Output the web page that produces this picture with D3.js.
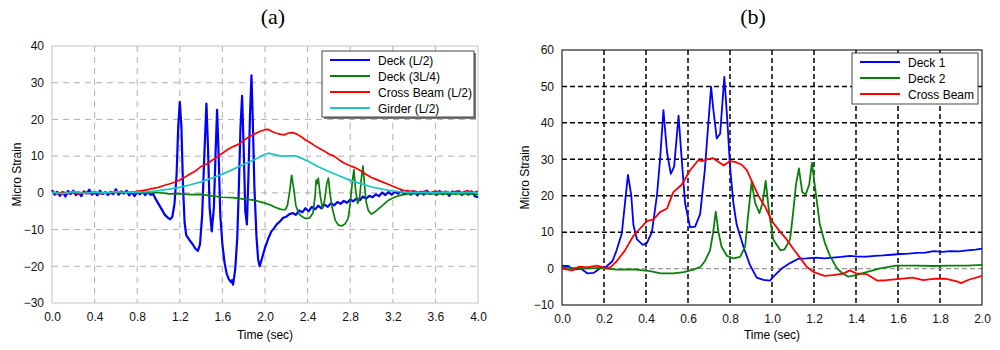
<!DOCTYPE html>
<html>
<head>
<meta charset="utf-8">
<script src="https://cdn.jsdelivr.net/npm/d3@7"></script>
<style>
  body { margin: 0; background: #fff; }
  text { font-family: Arial, "Liberation Sans", sans-serif; }
  .title { font-family: "Times New Roman", "Liberation Serif", serif; }
</style>
</head>
<body>
<svg id="chart" width="1000" height="350"></svg>
<script>
// ---- panel (a) data: [time (sec), micro strain]
var deckHalf = [[0,0.8],[0.025,-0.5],[0.05,0.3],[0.075,-0.8],[0.1,0.2],[0.125,-1.0],[0.15,0.5],[0.175,-0.3],[0.2,0.6],[0.225,-0.6],
  [0.25,0.1],[0.275,-0.9],[0.3,0.4],[0.325,-0.2],[0.35,0.9],[0.375,-0.5],[0.4,0.2],[0.425,-0.7],[0.45,0.6],[0.475,-0.3],
  [0.5,0.1],[0.525,-0.6],[0.55,0.3],[0.575,-0.4],[0.6,1.0],[0.625,-0.5],[0.65,0.4],[0.675,-0.2],[0.7,0.6],[0.725,-0.7],
  [0.75,0.2],[0.775,-0.9],[0.8,0.3],[0.825,-0.4],[0.85,0.5],[0.875,-0.6],[0.9,0.2],[0.925,-0.5],[0.95,-0.3],[0.97,-1.5],
  [1.0,-3.0],[1.03,-4.5],[1.06,-6.0],[1.09,-6.8],[1.11,-7.2],[1.13,-6.5],[1.15,-3],[1.17,5],[1.185,18],[1.2,24.8],
  [1.215,18],[1.23,2],[1.245,-8],[1.26,-11.5],[1.29,-12.8],[1.32,-14.0],[1.35,-15.3],[1.37,-15.8],[1.39,-14],[1.41,-6],
  [1.43,10],[1.45,24.3],[1.465,12],[1.48,-4],[1.5,-10.5],[1.52,-4],[1.535,10],[1.55,22.6],[1.565,10],[1.58,-6],
  [1.6,-14],[1.62,-19],[1.64,-22],[1.66,-23.5],[1.68,-24.3],[1.69,-23.8],[1.7,-25],[1.72,-21],[1.74,-12],[1.755,2],
  [1.77,18],[1.785,26.4],[1.8,12],[1.815,-5],[1.83,-8.6],[1.845,5],[1.86,22],[1.873,32],[1.885,20],[1.9,2],
  [1.92,-12],[1.935,-18],[1.95,-20],[1.97,-18],[2.0,-15],[2.03,-12.5],[2.06,-10.5],[2.08,-9.8],[2.11,-8.6],[2.14,-7.8],
  [2.17,-6.8],[2.2,-6.5],[2.23,-5.8],[2.26,-5.5],[2.29,-6.0],[2.32,-4.8],[2.35,-5.3],[2.38,-4.2],[2.41,-5.0],[2.44,-3.8],
  [2.47,-4.5],[2.5,-3.5],[2.53,-4.2],[2.56,-3.2],[2.59,-3.8],[2.62,-2.8],[2.65,-3.4],[2.68,-2.5],[2.71,-3.0],[2.74,-2.2],
  [2.77,-2.7],[2.8,-1.8],[2.83,-2.3],[2.86,-1.5],[2.89,-2.0],[2.92,-1.0],[2.95,-1.6],[2.98,-0.8],[3.01,-1.2],[3.04,-0.4],
  [3.07,-0.9],[3.1,0.1],[3.13,-0.6],[3.16,0.2],[3.19,-0.5],[3.22,0.3],[3.25,-0.2],[3.28,0.5],[3.31,-0.4],[3.34,0.6],
  [3.37,-0.5],[3.4,0.4],[3.43,-0.7],[3.46,0.3],[3.49,-0.5],[3.52,0.6],[3.55,-0.3],[3.58,0.2],[3.61,-0.6],[3.64,0.5],
  [3.67,-0.4],[3.7,0.3],[3.73,-0.8],[3.76,0.4],[3.79,-0.3],[3.82,0.5],[3.85,-0.6],[3.88,0.2],[3.91,-0.5],[3.94,0.4],
  [3.97,-0.9],[4.0,-1.2]];

var deck3q = [[0,0.2],[0.1,-0.1],[0.2,0.2],[0.3,0],[0.4,0.1],[0.5,-0.1],[0.6,0.2],[0.7,0.1],[0.8,0],[0.9,-0.1],
  [1.0,0.1],[1.1,-0.3],[1.2,-0.2],[1.3,-0.5],[1.4,-0.4],[1.5,-0.8],[1.6,-1.2],[1.7,-1.3],[1.8,-1.7],[1.9,-2.0],
  [2.0,-2.8],[2.05,-3.3],[2.1,-4.0],[2.15,-4.5],[2.19,-4.6],[2.21,-3.5],[2.23,0],[2.25,4.8],[2.27,1],[2.29,-3.5],
  [2.32,-5.8],[2.35,-6.5],[2.38,-7.0],[2.42,-6.8],[2.45,-5.5],[2.47,-1],[2.48,3.5],[2.49,2.5],[2.5,4.0],[2.52,-1],
  [2.54,-4.2],[2.56,-2],[2.58,2.5],[2.595,4],[2.61,0],[2.63,-4],[2.66,-7.5],[2.69,-8.8],[2.72,-9.0],[2.75,-8.5],
  [2.78,-7],[2.8,-3],[2.82,3],[2.835,6.3],[2.85,1],[2.87,-2.9],[2.89,-1],[2.905,4],[2.92,7.3],[2.935,2],
  [2.95,-2.5],[2.97,-4.8],[3.0,-5.8],[3.04,-5.0],[3.08,-4.0],[3.12,-3.0],[3.16,-2.0],[3.2,-1.4],[3.25,-0.8],[3.3,-0.5],
  [3.35,-0.3],[3.4,-0.2],[3.5,-0.2],[3.6,-0.3],[3.7,-0.2],[3.8,-0.3],[3.9,-0.2],[4.0,-0.4]];

var crossHalf = [[0,0.2],[0.05,-0.3],[0.1,0.3],[0.15,-0.2],[0.2,0.1],[0.25,-0.4],[0.3,0.2],[0.35,-0.2],[0.4,0.3],[0.45,-0.3],
  [0.5,0.2],[0.55,-0.2],[0.6,0.4],[0.65,-0.1],[0.7,0.2],[0.75,0.1],[0.8,0.4],[0.85,0.6],[0.9,0.9],[0.95,1.2],
  [1.0,1.5],[1.05,2.0],[1.1,2.4],[1.15,2.9],[1.2,3.5],[1.25,4.3],[1.3,5.2],[1.35,6.0],[1.4,7.2],[1.45,7.8],
  [1.5,8.8],[1.55,9.8],[1.6,10.8],[1.65,11.8],[1.7,12.6],[1.75,13.2],[1.8,14.3],[1.85,15.3],[1.9,16.0],[1.95,16.7],
  [2.0,17.2],[2.03,17.3],[2.06,16.8],[2.1,16.3],[2.14,16.0],[2.18,15.8],[2.22,16.3],[2.26,16.4],[2.3,16.0],[2.34,15.3],
  [2.38,14.4],[2.42,13.8],[2.46,13.0],[2.5,12.3],[2.55,11.5],[2.6,10.6],[2.65,10.0],[2.7,8.9],[2.75,8.0],[2.8,7.4],
  [2.85,6.8],[2.9,6.0],[2.95,5.0],[3.0,4.2],[3.05,3.6],[3.1,3.0],[3.15,2.4],[3.2,1.8],[3.25,1.2],[3.3,0.7],
  [3.35,0.4],[3.4,0.5],[3.45,0.1],[3.5,0.5],[3.55,0.0],[3.6,0.5],[3.65,0.1],[3.7,0.4],[3.75,-0.1],[3.8,0.5],
  [3.85,0.1],[3.9,0.6],[3.95,0.0],[4.0,0.5]];

var girderHalf = [[0,0.1],[0.1,-0.2],[0.2,0.3],[0.3,-0.1],[0.4,0.2],[0.5,0],[0.6,0.3],[0.7,0.1],[0.8,0.2],[0.9,0.3],
  [1.0,0.6],[1.1,1.0],[1.2,1.5],[1.3,2.2],[1.4,3.0],[1.5,4.0],[1.6,5.1],[1.7,6.4],[1.8,7.7],[1.9,9.0],
  [1.95,9.8],[2.0,10.5],[2.03,10.8],[2.08,10.5],[2.15,10.0],[2.2,10.1],[2.28,10.1],[2.33,9.6],[2.4,8.7],[2.45,7.9],
  [2.5,7.1],[2.6,5.8],[2.7,4.6],[2.8,3.4],[2.9,2.5],[3.0,1.6],[3.1,1.0],[3.2,0.5],[3.3,0.2],[3.4,0.1],
  [3.5,0.1],[3.6,0],[3.7,0.2],[3.8,0],[3.9,0.1],[4.0,0.1]];

// ---- panel (b) data
var deck1 = [[0,0.7],[0.03,0.7],[0.055,-0.3],[0.09,0],[0.12,-1.3],[0.15,-1.2],[0.18,0],[0.21,0.5],[0.24,2],[0.26,5],
  [0.285,9.7],[0.3,18],[0.314,25.7],[0.33,20],[0.34,12],[0.357,8],[0.385,6.5],[0.404,7],[0.428,10],[0.452,20],
  [0.467,30],[0.483,43.5],[0.5,32],[0.518,26],[0.534,28],[0.555,42],[0.57,30],[0.586,18],[0.61,11.3],[0.634,11.5],
  [0.658,15],[0.68,27],[0.697,40],[0.71,49.9],[0.72,44],[0.737,35.7],[0.753,37],[0.773,52.6],[0.788,40],[0.8,28],
  [0.816,18],[0.832,12],[0.864,6],[0.895,1],[0.927,-2.5],[0.959,-3.1],[0.99,-3.3],[1.01,-2],[1.046,0],[1.086,1.5],
  [1.125,2.7],[1.165,2.8],[1.21,3],[1.25,2.8],[1.29,3],[1.33,3.2],[1.37,3.5],[1.41,3.3],[1.45,3.3],[1.49,3.5],
  [1.53,3.6],[1.57,3.8],[1.61,4.0],[1.65,4.1],[1.69,4.3],[1.73,4.4],[1.77,4.8],[1.81,4.6],[1.85,4.8],[1.89,4.7],
  [1.93,5.0],[1.97,5.2],[2.0,5.5]];

var deck2 = [[0,0.3],[0.1,0],[0.18,0.2],[0.26,-0.3],[0.34,-0.2],[0.42,-0.7],[0.47,-1.3],[0.53,-1.3],[0.58,-1.0],[0.626,-0.3],
  [0.66,0.5],[0.68,2],[0.705,5],[0.72,10],[0.732,15.6],[0.745,10],[0.76,6],[0.785,3.5],[0.816,2.8],[0.848,3.2],
  [0.872,6],[0.887,15],[0.903,23.8],[0.92,18],[0.94,15.2],[0.955,18],[0.97,24.1],[0.987,15],[1.006,8],[1.04,5],
  [1.06,5.3],[1.086,8],[1.1,15],[1.114,23],[1.128,27.5],[1.144,21],[1.16,20.3],[1.177,23],[1.19,29],[1.21,20],
  [1.228,12],[1.252,7],[1.276,3.5],[1.31,0],[1.34,-1.5],[1.363,-2.2],[1.4,-1.8],[1.45,-1.0],[1.51,0],[1.59,0.8],
  [1.69,0.8],[1.77,0.7],[1.85,0.8],[1.93,0.8],[2.0,1.0]];

var crossBeam = [[0,0],[0.048,-0.5],[0.08,0.5],[0.12,0.3],[0.166,0.8],[0.206,0.2],[0.23,0.3],[0.26,2],[0.3,5],[0.34,9],
  [0.372,11],[0.404,13],[0.436,13.5],[0.467,15.5],[0.5,16.5],[0.53,21],[0.57,23],[0.61,27],[0.65,29.8],[0.666,29.5],
  [0.69,30],[0.72,30.3],[0.753,29],[0.77,28.3],[0.8,29.5],[0.824,29.3],[0.856,28.5],[0.88,27],[0.9,24.5],[0.935,20],
  [0.967,17],[1.0,13],[1.04,10],[1.07,8],[1.1,5.5],[1.133,3],[1.165,0.5],[1.2,-1],[1.25,-2],[1.29,-1.8],
  [1.34,-1.4],[1.37,-0.5],[1.4,-1.3],[1.45,-1.5],[1.5,-3.3],[1.545,-3.2],[1.61,-2.8],[1.67,-2.5],[1.72,-3.2],[1.77,-2.8],
  [1.83,-2.8],[1.88,-3.5],[1.9,-4.0],[1.94,-3.0],[2.0,-2.0]];

var xTicksA = [0, 0.4, 0.8, 1.2, 1.6, 2.0, 2.4, 2.8, 3.2, 3.6, 4.0];
var yTicksA = [-30, -20, -10, 0, 10, 20, 30, 40];
var xTicksB = [0, 0.2, 0.4, 0.6, 0.8, 1.0, 1.2, 1.4, 1.6, 1.8, 2.0];
var yTicksB = [-10, 0, 10, 20, 30, 40, 50, 60];

var namesA = ["Deck (L/2)", "Deck (3L/4)", "Cross Beam (L/2)", "Girder (L/2)"];
var colorsA = ["#0000ff", "#0a800a", "#ff0000", "#1cc4c4"];
var namesB = ["Deck 1", "Deck 2", "Cross Beam"];
var colorsB = ["#0000ff", "#0a800a", "#ff0000"];

var svg = d3.select("#chart");

function drawPanel(p) {
    var x = d3.scaleLinear().domain(p.xDomain).range([p.left, p.right]);
    var y = d3.scaleLinear().domain(p.yDomain).range([p.bottom, p.top]);
    var g = svg.append("g");

    // grid
    g.selectAll(".vg").data(p.xTicks.slice(1, -1)).enter().append("line")
        .attr("x1", d => x(d)).attr("x2", d => x(d))
        .attr("y1", p.top).attr("y2", p.bottom)
        .attr("stroke", p.gridColor).attr("stroke-width", p.gridWidth)
        .attr("stroke-dasharray", p.dash);
    g.selectAll(".hg").data(p.yTicks.slice(1, -1)).enter().append("line")
        .attr("x1", p.left).attr("x2", p.right)
        .attr("y1", d => y(d)).attr("y2", d => y(d))
        .attr("stroke", d => (d === 0 && p.zeroGray) ? "#999" : p.gridColor)
        .attr("stroke-width", d => (d === 0 && p.zeroGray) ? 1.2 : p.gridWidth)
        .attr("stroke-dasharray", p.dash);

    // axes
    var xAxis = d3.axisBottom(x).tickValues(p.xTicks).tickFormat(d3.format(".1f")).tickSize(0).tickPadding(9);
    var yAxis = d3.axisLeft(y).tickValues(p.yTicks).tickFormat(d3.format("d")).tickSize(0).tickPadding(8);
    g.append("g").attr("transform", "translate(0," + p.bottom + ")").call(xAxis)
        .call(a => a.select(".domain").remove())
        .selectAll("text").attr("font-size", 12).attr("fill", "#111");
    g.append("g").attr("transform", "translate(" + p.left + ",0)").call(yAxis)
        .call(a => a.select(".domain").remove())
        .selectAll("text").attr("font-size", 12).attr("fill", "#111");

    // frame
    g.append("rect").attr("x", p.left).attr("y", p.top)
        .attr("width", p.right - p.left).attr("height", p.bottom - p.top)
        .attr("fill", "none").attr("stroke", p.frameColor).attr("stroke-width", p.frameWidth);

    // series
    var line = d3.line().x(d => x(d[0])).y(d => y(d[1]));
    p.series.forEach(function(s, i) {
        g.append("path").datum(s).attr("d", line)
            .attr("fill", "none").attr("stroke", p.colors[i])
            .attr("stroke-width", p.widths[i]).attr("stroke-linejoin", "round");
    });

    // labels
    g.append("text").attr("class", "title").attr("x", (p.left + p.right) / 2 + p.titleDx).attr("y", 24)
        .attr("text-anchor", "middle").attr("font-size", 22).text(p.title);
    g.append("text").attr("x", (p.left + p.right) / 2).attr("y", 339)
        .attr("text-anchor", "middle").attr("font-size", 12).text("Time (sec)");
    g.append("text").attr("transform", "translate(" + p.yLabelX + "," + ((p.top + p.bottom) / 2) + ") rotate(-90)")
        .attr("text-anchor", "middle").attr("font-size", 12).text("Micro Strain");

    // legend
    var L = p.legend;
    if (L.shadow) {
        g.append("rect").attr("x", L.x + 2).attr("y", L.y + 2).attr("width", L.w).attr("height", L.h)
            .attr("fill", "#777");
    }
    g.append("rect").attr("x", L.x).attr("y", L.y).attr("width", L.w).attr("height", L.h)
        .attr("fill", "#fff").attr("stroke", "#444").attr("stroke-width", 1);
    p.names.forEach(function(n, i) {
        var yy = L.y + L.first + i * L.step;
        g.append("line").attr("x1", L.x + 8).attr("x2", L.x + 48).attr("y1", yy).attr("y2", yy)
            .attr("stroke", p.colors[i]).attr("stroke-width", 2);
        g.append("text").attr("x", L.x + 56).attr("y", yy + 4.5).attr("font-size", 12).text(n);
    });
}

drawPanel({
    left: 52, right: 478, top: 46, bottom: 303,
    xDomain: [0, 4], yDomain: [-30, 40], xTicks: xTicksA, yTicks: yTicksA,
    gridColor: "#b0b0b0", gridWidth: 1, dash: "6,5", zeroGray: false,
    frameColor: "#c4c4c4", frameWidth: 1,
    series: [deckHalf, deck3q, crossHalf, girderHalf], colors: colorsA, widths: [2.2, 1.7, 1.7, 1.7],
    names: namesA, title: "(a)", titleDx: 8, yLabelX: 21,
    legend: { x: 322, y: 51, w: 152, h: 66, first: 9, step: 16, shadow: true }
});

drawPanel({
    left: 562, right: 982, top: 50, bottom: 305,
    xDomain: [0, 2], yDomain: [-10, 60], xTicks: xTicksB, yTicks: yTicksB,
    gridColor: "#000", gridWidth: 1.5, dash: "5,3", zeroGray: true,
    frameColor: "#222", frameWidth: 1.2,
    series: [deck1, deck2, crossBeam], colors: colorsB, widths: [1.8, 1.8, 1.8],
    names: namesB, title: "(b)", titleDx: -19, yLabelX: 529,
    legend: { x: 852, y: 53, w: 126, h: 51, first: 9, step: 16, shadow: false }
});
</script>
</body>
</html>
